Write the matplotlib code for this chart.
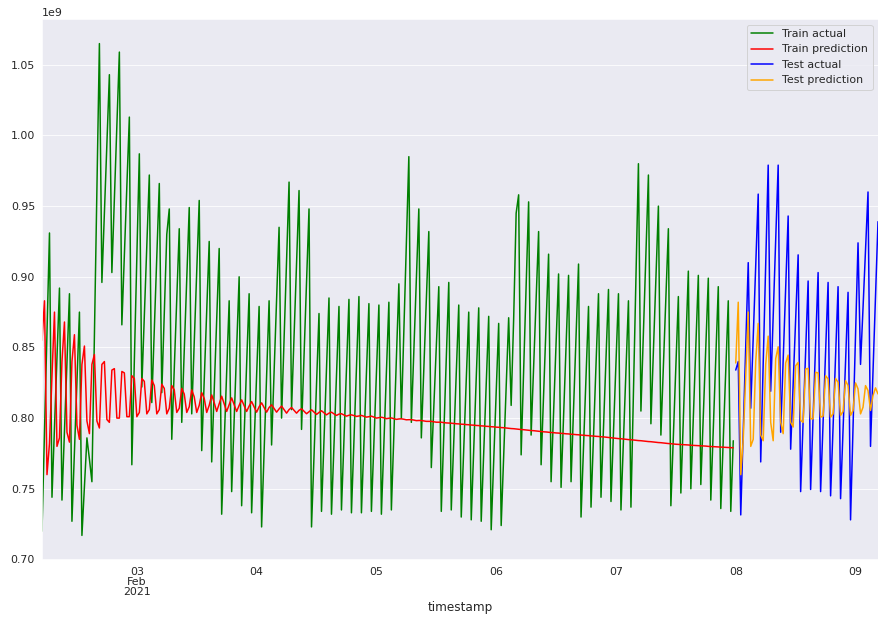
import numpy as np
import pandas as pd
import matplotlib
matplotlib.use("Agg")
import matplotlib.pyplot as plt
import matplotlib.dates as mdates
import seaborn as sns

sns.set_style("darkgrid")
plt.rcParams['font.family'] = ['DejaVu Sans']

# values in units of 1e9, sampled every 30 minutes
train_start = "2021-02-02 05:00"
test_start = "2021-02-08 00:00"

train_actual = [
    0.720, 0.790, 0.861, 0.931, 0.744, 0.793, 0.843, 0.892,
    0.742, 0.791, 0.839, 0.888, 0.727, 0.776, 0.826, 0.875,
    0.717, 0.751, 0.786, 0.771, 0.755, 0.858, 0.962, 1.065,
    0.896, 0.945, 0.994, 1.043, 0.903, 0.955, 1.007, 1.059,
    0.866, 0.915, 0.964, 1.013, 0.767, 0.840, 0.914, 0.987,
    0.822, 0.872, 0.922, 0.972, 0.811, 0.863, 0.914, 0.966,
    0.818, 0.875, 0.930, 0.948, 0.785, 0.835, 0.884, 0.934,
    0.797, 0.848, 0.898, 0.949, 0.803, 0.853, 0.904, 0.954,
    0.777, 0.826, 0.876, 0.925, 0.769, 0.819, 0.870, 0.920,
    0.732, 0.782, 0.833, 0.883, 0.748, 0.799, 0.849, 0.900,
    0.738, 0.788, 0.838, 0.888, 0.733, 0.782, 0.830, 0.879,
    0.723, 0.776, 0.830, 0.883, 0.781, 0.832, 0.884, 0.935,
    0.800, 0.856, 0.911, 0.967, 0.806, 0.858, 0.909, 0.961,
    0.792, 0.844, 0.896, 0.948, 0.723, 0.773, 0.824, 0.874,
    0.734, 0.784, 0.835, 0.885, 0.732, 0.781, 0.830, 0.879,
    0.735, 0.785, 0.834, 0.884, 0.733, 0.784, 0.835, 0.886,
    0.733, 0.782, 0.832, 0.881, 0.734, 0.783, 0.831, 0.880,
    0.732, 0.782, 0.832, 0.882, 0.735, 0.788, 0.842, 0.895,
    0.800, 0.862, 0.923, 0.985, 0.797, 0.847, 0.898, 0.948,
    0.786, 0.835, 0.883, 0.932, 0.765, 0.808, 0.850, 0.893,
    0.734, 0.788, 0.842, 0.896, 0.735, 0.783, 0.832, 0.880,
    0.730, 0.778, 0.827, 0.875, 0.728, 0.778, 0.828, 0.878,
    0.727, 0.775, 0.824, 0.872, 0.721, 0.770, 0.818, 0.867,
    0.724, 0.773, 0.822, 0.871, 0.809, 0.870, 0.945, 0.958,
    0.774, 0.834, 0.893, 0.953, 0.788, 0.836, 0.884, 0.932,
    0.767, 0.817, 0.866, 0.916, 0.755, 0.804, 0.853, 0.902,
    0.751, 0.801, 0.851, 0.901, 0.755, 0.806, 0.858, 0.909,
    0.730, 0.780, 0.829, 0.879, 0.737, 0.787, 0.838, 0.888,
    0.744, 0.793, 0.842, 0.891, 0.741, 0.790, 0.839, 0.888,
    0.735, 0.784, 0.834, 0.883, 0.737, 0.818, 0.899, 0.980,
    0.805, 0.861, 0.916, 0.972, 0.796, 0.847, 0.899, 0.950,
    0.788, 0.837, 0.885, 0.934, 0.738, 0.787, 0.837, 0.886,
    0.747, 0.799, 0.852, 0.904, 0.750, 0.800, 0.851, 0.901,
    0.753, 0.802, 0.850, 0.899, 0.742, 0.792, 0.843, 0.893,
    0.736, 0.785, 0.834, 0.883, 0.734, 0.784,
]

train_pred = [
    0.855, 0.883, 0.760, 0.782, 0.830, 0.875, 0.780, 0.786,
    0.840, 0.868, 0.790, 0.783, 0.840, 0.859, 0.795, 0.785,
    0.838, 0.851, 0.798, 0.789, 0.838, 0.845, 0.798, 0.793,
    0.838, 0.840, 0.799, 0.797, 0.834, 0.835, 0.800, 0.800,
    0.833, 0.832, 0.801, 0.801, 0.830, 0.828, 0.801, 0.804,
    0.828, 0.826, 0.803, 0.806, 0.827, 0.823, 0.803, 0.806,
    0.824, 0.821, 0.803, 0.807, 0.823, 0.820, 0.804, 0.807,
    0.821, 0.817, 0.804, 0.808, 0.820, 0.815, 0.804, 0.809,
    0.818, 0.814, 0.804, 0.809, 0.8164, 0.811, 0.8047, 0.810,
    0.8155, 0.810, 0.8047, 0.8095, 0.8143, 0.8095, 0.8047, 0.809,
    0.8129, 0.8088, 0.8047, 0.8085, 0.8117, 0.808, 0.8042, 0.808,
    0.8108, 0.8075, 0.8042, 0.8075, 0.8094, 0.8068, 0.8042, 0.8065,
    0.8085, 0.806, 0.8035, 0.806, 0.8075, 0.8055, 0.8035, 0.8055,
    0.8066, 0.8048, 0.8031, 0.8045, 0.8059, 0.8042, 0.8026, 0.804,
    0.8052, 0.8038, 0.8023, 0.8035, 0.8042, 0.803, 0.8019, 0.8028,
    0.8031, 0.8022, 0.8014, 0.802, 0.8023, 0.8018, 0.8012, 0.8015,
    0.8019, 0.8013, 0.8007, 0.801, 0.8014, 0.8007, 0.8000, 0.8003,
    0.8006, 0.8002, 0.7996, 0.7999, 0.8001, 0.7996, 0.7991, 0.7994,
    0.7995, 0.7992, 0.7988, 0.7989, 0.7989, 0.7986, 0.7982, 0.7983,
    0.7983, 0.7980, 0.7977, 0.7977, 0.7977, 0.7974, 0.7971, 0.7971,
    0.7971, 0.7968, 0.7966, 0.7965, 0.7964, 0.7962, 0.7960, 0.7959,
    0.7957, 0.7956, 0.7954, 0.7953, 0.7951, 0.7950, 0.7948, 0.7947,
    0.7945, 0.7944, 0.7942, 0.7941, 0.7939, 0.7938, 0.7936, 0.7935,
    0.7933, 0.7932, 0.7930, 0.7928, 0.7926, 0.7925, 0.7923, 0.7921,
    0.7919, 0.7918, 0.7916, 0.7914, 0.7912, 0.7911, 0.7909, 0.7907,
    0.7905, 0.7903, 0.7902, 0.7900, 0.7898, 0.7897, 0.7895, 0.7894,
    0.7892, 0.7891, 0.7889, 0.7888, 0.7886, 0.7885, 0.7883, 0.7882,
    0.7880, 0.7879, 0.7877, 0.7876, 0.7874, 0.7873, 0.7871, 0.7870,
    0.7868, 0.7867, 0.7865, 0.7863, 0.7861, 0.7859, 0.7857, 0.7855,
    0.7854, 0.7852, 0.7850, 0.7848, 0.7847, 0.7845, 0.7843, 0.7841,
    0.7840, 0.7838, 0.7836, 0.7834, 0.7833, 0.7831, 0.7829, 0.7827,
    0.7826, 0.7824, 0.7822, 0.7820, 0.7819, 0.7817, 0.7815, 0.7814,
    0.7813, 0.7812, 0.7811, 0.7810, 0.7808, 0.7807, 0.7806, 0.7805,
    0.7804, 0.7803, 0.7802, 0.7800, 0.7799, 0.7798, 0.7797, 0.7796,
    0.7795, 0.7794, 0.7793, 0.7792, 0.7791, 0.7790,
]

test_actual = [
    0.834, 0.840, 0.7315, 0.791, 0.851, 0.910,
    0.807, 0.857, 0.908, 0.9585, 0.769, 0.839, 0.909, 0.979,
    0.819, 0.872, 0.926, 0.979, 0.790, 0.841, 0.892, 0.943,
    0.778, 0.824, 0.870, 0.9155, 0.748, 0.798, 0.847, 0.897,
    0.7495, 0.801, 0.852, 0.903, 0.748, 0.797, 0.847, 0.896,
    0.745, 0.794, 0.844, 0.893, 0.743, 0.792, 0.840, 0.889,
    0.728, 0.794, 0.859, 0.924, 0.838, 0.878, 0.919, 0.960,
    0.780, 0.833, 0.886, 0.939,
]

test_pred = [
    0.839, 0.882, 0.760, 0.785, 0.830, 0.875,
    0.780, 0.785, 0.840, 0.867, 0.788, 0.784, 0.838, 0.858,
    0.797, 0.784, 0.842, 0.8505, 0.797, 0.789, 0.839, 0.8446,
    0.797, 0.7937, 0.837, 0.8394, 0.7984, 0.797, 0.8347, 0.8352,
    0.7995, 0.7995, 0.8324, 0.832, 0.8007, 0.8014, 0.830, 0.8277,
    0.8007, 0.803, 0.828, 0.8254, 0.8019, 0.8047, 0.8265, 0.823,
    0.8019, 0.8054, 0.8249, 0.8207, 0.803, 0.8077, 0.823, 0.8195,
    0.8054, 0.816, 0.8214, 0.8171,
]

scale = 1e9
train_time = pd.date_range(train_start, periods=len(train_actual), freq="30min")
test_time = pd.date_range(test_start, periods=len(test_actual), freq="30min")

fig = plt.figure(figsize=(885 / 72, 626 / 72), dpi=72)
ax = fig.add_axes([42 / 885, 66 / 626, 836 / 885, 541 / 626])

ax.plot(train_time, np.array(train_actual) * scale, color="green", lw=1.5, label="Train actual")
ax.plot(train_time, np.array(train_pred) * scale, color="red", lw=1.5, label="Train prediction")
ax.plot(test_time, np.array(test_actual) * scale, color="blue", lw=1.5, label="Test actual")
ax.plot(test_time, np.array(test_pred) * scale, color="orange", lw=1.5, label="Test prediction")

ax.set_xlim(train_time[0], test_time[-1])
ax.xaxis.set_major_locator(mdates.DayLocator())


def day_label(x, pos):
    d = mdates.num2date(x)
    if pos == 0:
        return d.strftime("%d\n%b\n%Y")
    return d.strftime("%d")


ax.xaxis.set_major_formatter(plt.FuncFormatter(day_label))
ax.xaxis.grid(False)
ax.tick_params(axis="both", labelsize=11, colors="#262626")
for lab in ax.get_xticklabels():
    lab.set_linespacing(1.0)
ax.yaxis.get_offset_text().set_fontsize(11)

ax.set_xlabel("timestamp", fontsize=12, color="#262626")
ax.legend(loc="upper right", fontsize=11)

fig.savefig("out.png", dpi=72)
